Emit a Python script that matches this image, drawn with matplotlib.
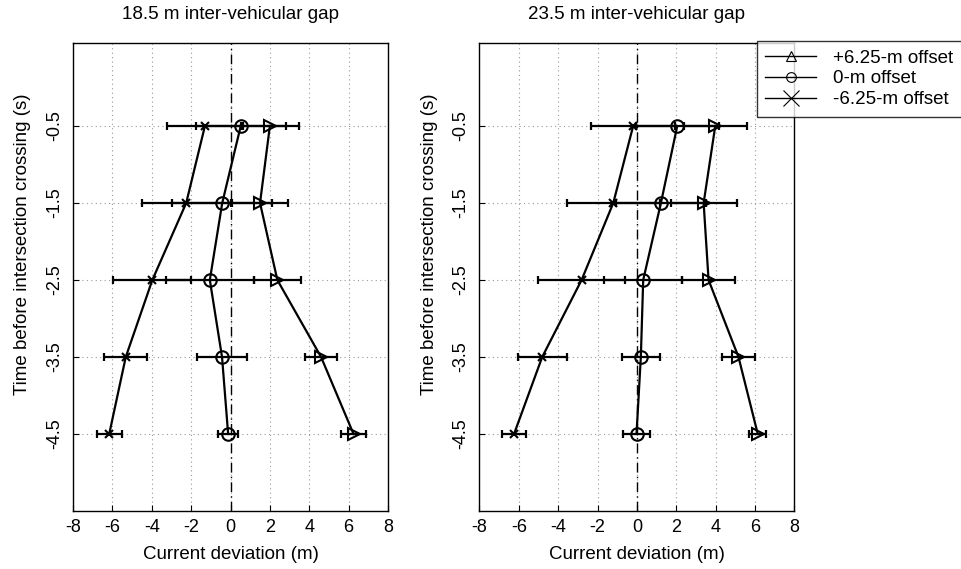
import matplotlib
matplotlib.use("Agg")
import matplotlib.pyplot as plt
from matplotlib.lines import Line2D

plt.rcParams['font.family'] = ['Liberation Sans', 'DejaVu Sans']
plt.rcParams['axes.unicode_minus'] = False

# time before crossing (s)
times = [-0.5, -1.5, -2.5, -3.5, -4.5]

# 18.5 m gap: mean deviation (m) and error half-width per offset
gap18_pos_mean = [2.00, 1.50, 2.38, 4.60, 6.25]
gap18_pos_err = [1.48, 1.40, 1.18, 0.82, 0.65]
gap18_zero_mean = [0.52, -0.42, -1.05, -0.43, -0.12]
gap18_zero_err = [2.29, 2.53, 2.22, 1.26, 0.51]
gap18_neg_mean = [-1.30, -2.25, -3.97, -5.32, -6.16]
gap18_neg_err = [1.94, 2.26, 1.98, 1.10, 0.63]

# 23.5 m gap
gap23_pos_mean = [3.98, 3.39, 3.64, 5.16, 6.14]
gap23_pos_err = [1.59, 1.67, 1.33, 0.83, 0.44]
gap23_zero_mean = [2.05, 1.22, 0.32, 0.20, -0.02]
gap23_zero_err = [2.10, 2.30, 1.98, 0.97, 0.68]
gap23_neg_mean = [-0.19, -1.20, -2.81, -4.81, -6.24]
gap23_neg_err = [2.15, 2.37, 2.23, 1.25, 0.60]

titles = ["18.5 m inter-vehicular gap", "23.5 m inter-vehicular gap"]
legend_labels = ["+6.25-m offset", "0-m offset", "-6.25-m offset"]
xticks = [-8, -6, -4, -2, 0, 2, 4, 6, 8]

W, H = 961, 569
FS = 13.5
fig = plt.figure(figsize=(W / 100, H / 100), dpi=100)

panels = [
    (73, titles[0], [(gap18_pos_mean, gap18_pos_err, '>', 9),
                     (gap18_zero_mean, gap18_zero_err, 'o', 9),
                     (gap18_neg_mean, gap18_neg_err, 'x', 6)]),
    (479.4, titles[1], [(gap23_pos_mean, gap23_pos_err, '>', 9),
                        (gap23_zero_mean, gap23_zero_err, 'o', 9),
                        (gap23_neg_mean, gap23_neg_err, 'x', 6)]),
]

ax_top, ax_bot = 43, 511
for left_px, title, series in panels:
    ax = fig.add_axes([left_px / W, 1 - ax_bot / H, 315 / W, (ax_bot - ax_top) / H])
    ax.set_xlim(-8, 8)
    ax.set_ylim(-5.5, 0.578)
    ax.set_xticks(xticks)
    ax.set_yticks(times)
    ax.set_yticklabels([str(t) for t in times], rotation=90, va='center')
    ax.grid(True, color='#999999', linestyle=(0, (1, 3)), linewidth=0.8)
    ax.axvline(0, color='black', linestyle=(0, (7, 3, 1, 3)), linewidth=1.0)
    for mean, err, mk, ms in series:
        ax.errorbar(mean, times, xerr=err, fmt='none', ecolor='black',
                    elinewidth=1.6, capsize=3, capthick=1.6, zorder=3)
        ax.plot(mean, times, color='black', linewidth=1.6, marker=mk,
                markersize=ms, markerfacecolor='none', markeredgecolor='black',
                markeredgewidth=1.5, zorder=4)
    ax.set_title(title, fontsize=FS, pad=17)
    ax.set_xlabel("Current deviation (m)", fontsize=FS, labelpad=7)
    ax.set_ylabel("Time before intersection crossing (s)", fontsize=FS)
    ax.yaxis.set_label_coords(-0.133, 0.57)
    ax.tick_params(direction='in', labelsize=13, length=4, width=0.8)
    ax.tick_params(axis='x', pad=6)
    ax.tick_params(axis='y', pad=7)
    for sp in ax.spines.values():
        sp.set_linewidth(1.0)
        sp.set_color('black')

handles = [
    Line2D([], [], color='black', linewidth=1.0, marker='^', markersize=7,
           markerfacecolor='none', markeredgewidth=0.8),
    Line2D([], [], color='black', linewidth=1.0, marker='o', markersize=7,
           markerfacecolor='none', markeredgewidth=0.8),
    Line2D([], [], color='black', linewidth=1.0, marker='x', markersize=11,
           markeredgewidth=0.8),
]
leg = fig.legend(handles, legend_labels, loc='upper left',
                 bbox_to_anchor=(757 / W, 1 - 41 / H), fontsize=FS,
                 frameon=True, fancybox=False, edgecolor='black',
                 handlelength=2.7, handletextpad=0.9, labelspacing=0.2,
                 borderpad=0.45, borderaxespad=0)
leg.get_frame().set_linewidth(1.0)
leg.set_zorder(10)

fig.savefig("out.png", dpi=100)
